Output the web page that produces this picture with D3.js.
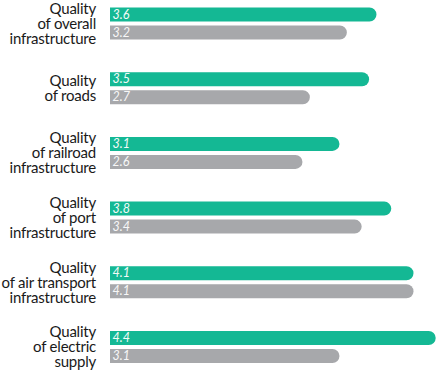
<!DOCTYPE html>
<html>
<head>
<meta charset="utf-8">
<script src="https://cdn.jsdelivr.net/npm/d3@7"></script>
<style>
  html, body { margin: 0; padding: 0; background: #ffffff; }
  svg { display: block; }
</style>
</head>
<body>
<svg id="chart" width="438" height="377"></svg>
<script>
const categories = [
  "Quality\nof overall\ninfrastructure",
  "Quality\nof roads",
  "Quality\nof railroad\ninfrastructure",
  "Quality\nof port\ninfrastructure",
  "Quality\nof air transport\ninfrastructure",
  "Quality\nof electric\nsupply"
];
const seriesA = [3.6, 3.5, 3.1, 3.8, 4.1, 4.4];
const seriesB = [3.2, 2.7, 2.6, 3.4, 4.1, 3.1];
const valueLabelsA = ["3.6", "3.5", "3.1", "3.8", "4.1", "4.4"];
const valueLabelsB = ["3.2", "2.7", "2.6", "3.4", "4.1", "3.1"];

const colorA = "#14b894";
const colorB = "#a7a8ab";
const barH = 14;
const barGap = 4;

const svg = d3.select("#chart");
const x = d3.scaleLinear().domain([0, 4.4]).range([110, 435.7]);
const y = d3.scalePoint().domain(d3.range(categories.length)).range([7.5, 331]);

function barPath(x0, x1, top, h) {
  const r = h / 2;
  const p = d3.path();
  p.moveTo(x0, top);
  p.lineTo(Math.max(x0, x1 - r), top);
  p.arc(Math.max(x0, x1 - r), top + r, r, -Math.PI / 2, Math.PI / 2);
  p.lineTo(x0, top + h);
  p.closePath();
  return p.toString();
}

const rows = categories.map((c, i) => ({
  label: c, a: seriesA[i], b: seriesB[i], la: valueLabelsA[i], lb: valueLabelsB[i], top: y(i)
}));

const g = svg.selectAll("g.row").data(rows).join("g").attr("class", "row");

g.append("path")
  .attr("d", d => barPath(x(0), x(d.a), d.top, barH))
  .attr("fill", colorA);
g.append("path")
  .attr("d", d => barPath(x(0), x(d.b), d.top + barH + barGap, barH))
  .attr("fill", colorB);

g.append("text")
  .attr("x", x(0) + 2.5)
  .attr("y", d => d.top + 11)
  .attr("font-family", "Lato, sans-serif")
  .attr("font-style", "italic")
  .attr("font-size", 12.5)
  .attr("fill", "#f4fbf8")
  .text(d => d.la);
g.append("text")
  .attr("x", x(0) + 2.5)
  .attr("y", d => d.top + barH + barGap + 11)
  .attr("font-family", "Lato, sans-serif")
  .attr("font-style", "italic")
  .attr("font-size", 12.5)
  .attr("fill", "#f7f7f7")
  .text(d => d.lb);

const lineH = 15;
g.each(function(d) {
  const lines = d.label.split("\n");
  const center = d.top + (2 * barH + barGap) / 2;
  const first = center - (lines.length - 1) * lineH / 2 + 5.2;
  const t = d3.select(this).append("text")
    .attr("text-anchor", "end")
    .attr("font-family", "Lato, sans-serif")
    .attr("font-size", 15)
    .attr("letter-spacing", -0.22)
    .attr("fill", "#1a1a1a");
  lines.forEach((ln, k) => {
    t.append("tspan").attr("x", 96).attr("y", first + k * lineH).text(ln);
  });
});
</script>
</body>
</html>
